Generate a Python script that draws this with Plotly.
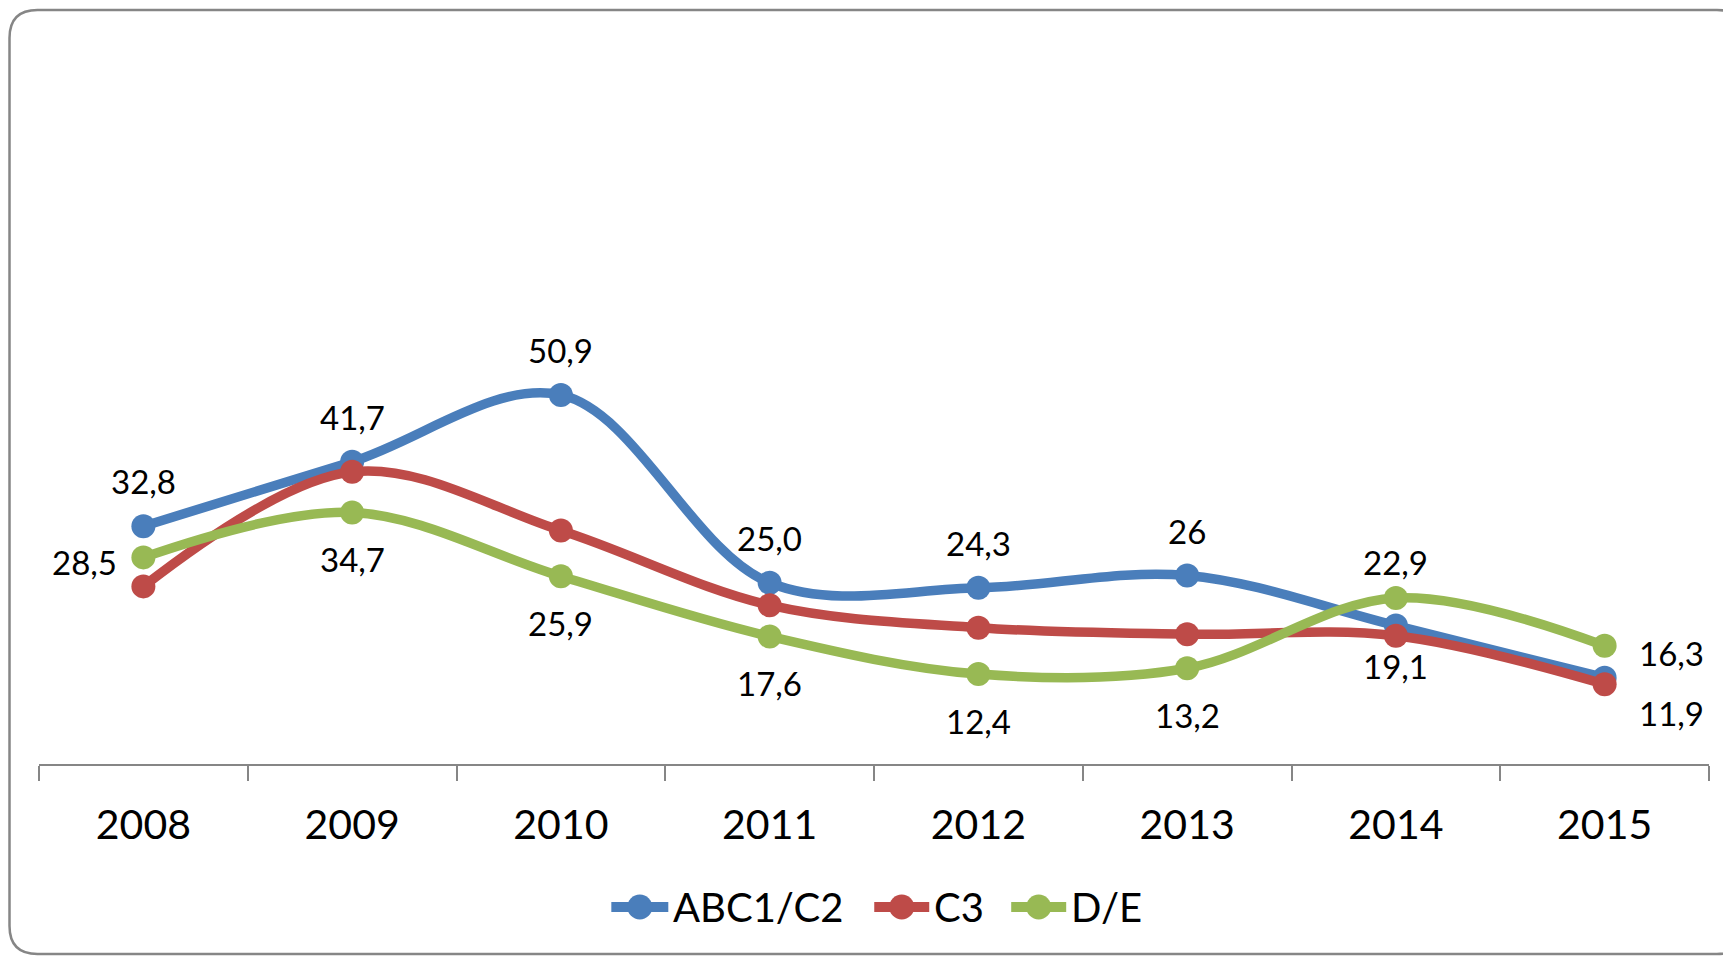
import plotly.graph_objects as go

# Datos
years = ["2008", "2009", "2010", "2011", "2012", "2013", "2014", "2015"]
abc1_c2 = [32.8, 41.7, 50.9, 25.0, 24.3, 26, 19.1, 11.9]
c3 = [24.5, 40.3, 32.2, 21.9, 18.8, 17.9, 17.7, 11.0]
d_e = [28.5, 34.7, 25.9, 17.6, 12.4, 13.2, 22.9, 16.3]
series_names = ["ABC1/C2", "C3", "D/E"]

# Posición de las etiquetas de datos (estilo Excel); C3 no lleva etiquetas
pos_abc = ["above", "above", "above", "above", "above", "above", "below_near", "right_low"]
pos_de = ["left", "below", "below", "below", "below", "below", "above_near", "right"]

colors = ["#4A7EBB", "#BE4B48", "#98B954"]
FONT = "Lato"
W, H = 1723, 957
L, R, T, B = 38.5, 14, 39, 193

shifts = {
    "above": (0, 45),
    "above_near": (0, 36),
    "below": (0, -47),
    "below_near": (0, -40),
    "left": (-59, -5),
    "right": (67, -7),
    "right_low": (67, -35),
}


def fmt(v):
    # los enteros se muestran sin decimales, como en la hoja original
    if isinstance(v, int):
        return str(v)
    return f"{v:.1f}".replace(".", ",")


def px_x(px):
    return (px - L) / (W - L - R)


def px_y(py):
    return (H - B - py) / (H - T - B)


fig = go.Figure()
for name, vals, color in zip(series_names, [abc1_c2, c3, d_e], colors):
    fig.add_trace(go.Scatter(x=years, y=vals, name=name, mode="lines+markers",
                             line=dict(color=color, width=9.5, shape="spline", smoothing=1),
                             marker=dict(color=color, size=24), showlegend=False))

annotations = []
for vals, positions in [(abc1_c2, pos_abc), (d_e, pos_de)]:
    for i, (v, p) in enumerate(zip(vals, positions)):
        dx, dy = shifts[p]
        # en ejes de categorías la anotación usa el índice de la categoría
        annotations.append(dict(x=i, y=v, text=fmt(v), showarrow=False,
                                xanchor="center", yanchor="middle", xshift=dx, yshift=dy,
                                font=dict(family=FONT, size=33, color="black")))

# marco redondeado del gráfico
x0, x1, y0, y1, r = 9, 1745, 10, 954, 28
path = (f"M {px_x(x0 + r)},{px_y(y0)} L {px_x(x1 - r)},{px_y(y0)} "
        f"Q {px_x(x1)},{px_y(y0)} {px_x(x1)},{px_y(y0 + r)} "
        f"L {px_x(x1)},{px_y(y1 - r)} Q {px_x(x1)},{px_y(y1)} {px_x(x1 - r)},{px_y(y1)} "
        f"L {px_x(x0 + r)},{px_y(y1)} Q {px_x(x0)},{px_y(y1)} {px_x(x0)},{px_y(y1 - r)} "
        f"L {px_x(x0)},{px_y(y0 + r)} Q {px_x(x0)},{px_y(y0)} {px_x(x0 + r)},{px_y(y0)} Z")
shapes = [dict(type="path", path=path, xref="paper", yref="paper",
               line=dict(color="#868686", width=2.5), layer="below")]

# leyenda a mano (símbolo largo como en Excel)
leg_y = 907
leg_symbols = [(611, 668), (874, 929), (1011, 1066)]
for name, color, (sx0, sx1) in zip(series_names, colors, leg_symbols):
    shapes.append(dict(type="line", xref="paper", yref="paper",
                       x0=px_x(sx0), x1=px_x(sx1), y0=px_y(leg_y), y1=px_y(leg_y),
                       line=dict(color=color, width=10)))
    shapes.append(dict(type="circle", xref="paper", yref="paper",
                       xsizemode="pixel", ysizemode="pixel",
                       xanchor=px_x((sx0 + sx1) / 2), yanchor=px_y(leg_y),
                       x0=-12.5, x1=12.5, y0=-12.5, y1=12.5,
                       fillcolor=color, line=dict(width=0)))
    annotations.append(dict(x=px_x(sx1 + 3), y=px_y(leg_y), xref="paper", yref="paper",
                            text=name, showarrow=False, xanchor="left", yanchor="middle",
                            font=dict(family=FONT, size=40, color="black")))

fig.update_layout(
    width=W, height=H,
    margin=dict(l=L, r=R, t=T, b=B, autoexpand=False),
    plot_bgcolor="white", paper_bgcolor="white",
    font=dict(family=FONT, color="black"),
    annotations=annotations,
    shapes=shapes,
    showlegend=False,
    xaxis=dict(type="category", range=[-0.5, 7.5], tickson="boundaries", ticks="outside",
               ticklen=15, tickwidth=2, tickcolor="#868686", showline=True,
               linecolor="#868686", linewidth=2, showgrid=False, ticklabelstandoff=24,
               tickfont=dict(family=FONT, size=41, color="black")),
    yaxis=dict(range=[0, 100], visible=False, showgrid=False),
)

fig.write_html("out.html", config={"displayModeBar": False},
               post_script="document.body.style.margin='0';")
